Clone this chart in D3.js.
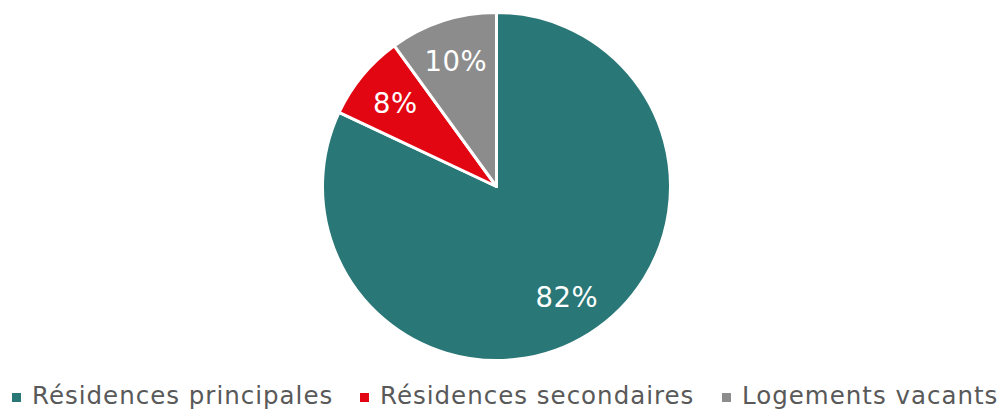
<!DOCTYPE html>
<html><head><meta charset="utf-8">
<script src="https://cdn.jsdelivr.net/npm/d3@7"></script>
<style>body{margin:0;background:#fff}svg{display:block}</style>
</head><body>
<svg id="c" width="1007" height="410"></svg>
<script>
const categories = ["Résidences principales", "Résidences secondaires", "Logements vacants"];
const values = [82, 8, 10];
const colors = ["#297776", "#E20613", "#8C8C8C"];
const labels = ["82%", "8%", "10%"];

const svg = d3.select("#c");
const cx = 496.5, cy = 186.5, R = 174;
const g = svg.append("g").attr("transform", `translate(${cx},${cy})`);
const pie = d3.pie().sort(null).value(d => d)(values);
const arc = d3.arc().innerRadius(0).outerRadius(R);
g.selectAll("path").data(pie).join("path")
  .attr("d", arc).attr("fill", (d,i) => colors[i])
  .attr("stroke", "#fff").attr("stroke-width", 3).attr("stroke-linejoin","round");
const larc = d3.arc().innerRadius(R*0.755).outerRadius(R*0.755);
g.selectAll("text").data(pie).join("text")
  .attr("transform", d => `translate(${larc.centroid(d)})`)
  .attr("text-anchor", "middle").attr("dy", "0.36em")
  .attr("font-family", "DejaVu Sans, Verdana, sans-serif")
  .attr("font-size", 27.5).attr("letter-spacing", 0.5).attr("fill", "#fff")
  .text((d,i) => labels[i]);

const legX = [32, 380, 742];
const lg = svg.append("g");
categories.forEach((c, i) => {
  lg.append("rect").attr("x", legX[i]-20).attr("y", 393).attr("width", 9).attr("height", 9).attr("fill", colors[i]);
  lg.append("text").attr("x", legX[i]).attr("y", 404)
    .attr("font-family", "DejaVu Sans, Verdana, sans-serif")
    .attr("font-size", 24.5).attr("letter-spacing", 1).attr("fill", "#595959").text(c);
});
</script>
</body></html>
